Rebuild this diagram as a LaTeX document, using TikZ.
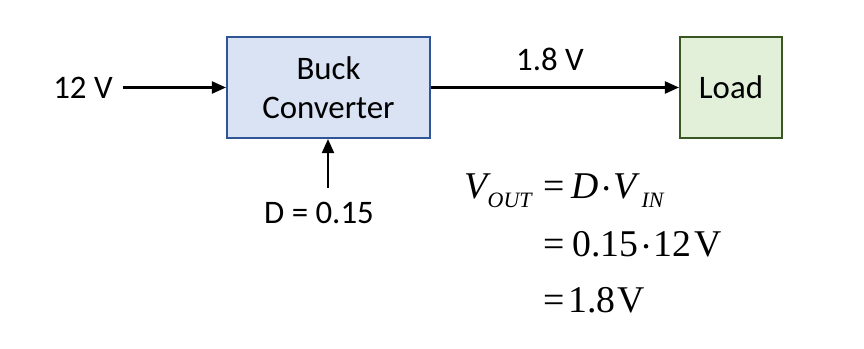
\documentclass[tikz,border=0pt]{standalone}
\usepackage{fontspec}
\setmainfont{Carlito}
\newfontfamily\eqfont{Liberation Serif}
\usetikzlibrary{arrows.meta,positioning}
\definecolor{buckfill}{HTML}{DAE3F3}
\definecolor{buckline}{HTML}{2F5597}
\definecolor{loadfill}{HTML}{E2F0D9}
\definecolor{loadline}{HTML}{385723}
\newcommand{\sub}[1]{\raisebox{-0.18cm}{\eqfont\fontsize{12.5}{14}\selectfont\itshape #1}}
\newcommand{\mdot}{\kern0.1cm\raisebox{0.15cm}{\tikz\fill (0,0) circle (0.045cm);}\kern0.1cm}

\begin{document}
\begin{tikzpicture}[
    x=0.02cm, y=-0.02cm,
    block/.style={draw, line width=1.2pt, inner sep=0pt, align=center, font=\fontsize{18.7}{22.5}\selectfont},
    lbl/.style={inner sep=0pt, font=\fontsize{18.7}{22.5}\selectfont},
    eq/.style={inner sep=0pt, anchor=base west, font=\eqfont\fontsize{21.5}{24}\selectfont},
    arr/.style={-{Triangle[length=0.28cm, width=0.24cm]}, line width=1.2pt}
]
\useasboundingbox (0,0) rectangle (864,348);
\node[block, fill=buckfill, draw=buckline, minimum width=4.06cm, minimum height=2.02cm] (buck) at (328.5,87.5) {Buck\\Converter};
\node[block, fill=loadfill, draw=loadline, minimum width=2.04cm, minimum height=2.02cm] (load) at (731,87.5) {Load};
\node[lbl] (vin) at (83,87.5) {12 V};
\node[lbl] (vout) at (550,59) {1.8 V};
\node[lbl] (duty) at (319,213) {D = 0.15};
\coordinate (dtip) at (328,188);

\draw[arr, shorten <=0.2cm] (vin.east) -- (buck.west);
\draw[arr] (buck.east) -- (load.west);
\draw[arr] (dtip) -- (buck.south -| dtip);

% output voltage
\node[eq, anchor=base east] (eqlhs) at (532,198) {\itshape V\sub{OUT}};
\node[eq] (eqone) at (543,198) {=\kern0.14cm\itshape D\mdot V\kern0.1cm\sub{IN}};
\node[eq] (eqtwo) at (543,256) {=\kern0.16cm0.15\mdot12\kern0.06cmV};
\node[eq] (eqthree) at (543,312) {=\kern0.08cm1.8\kern0.04cmV};
\end{tikzpicture}
\end{document}
